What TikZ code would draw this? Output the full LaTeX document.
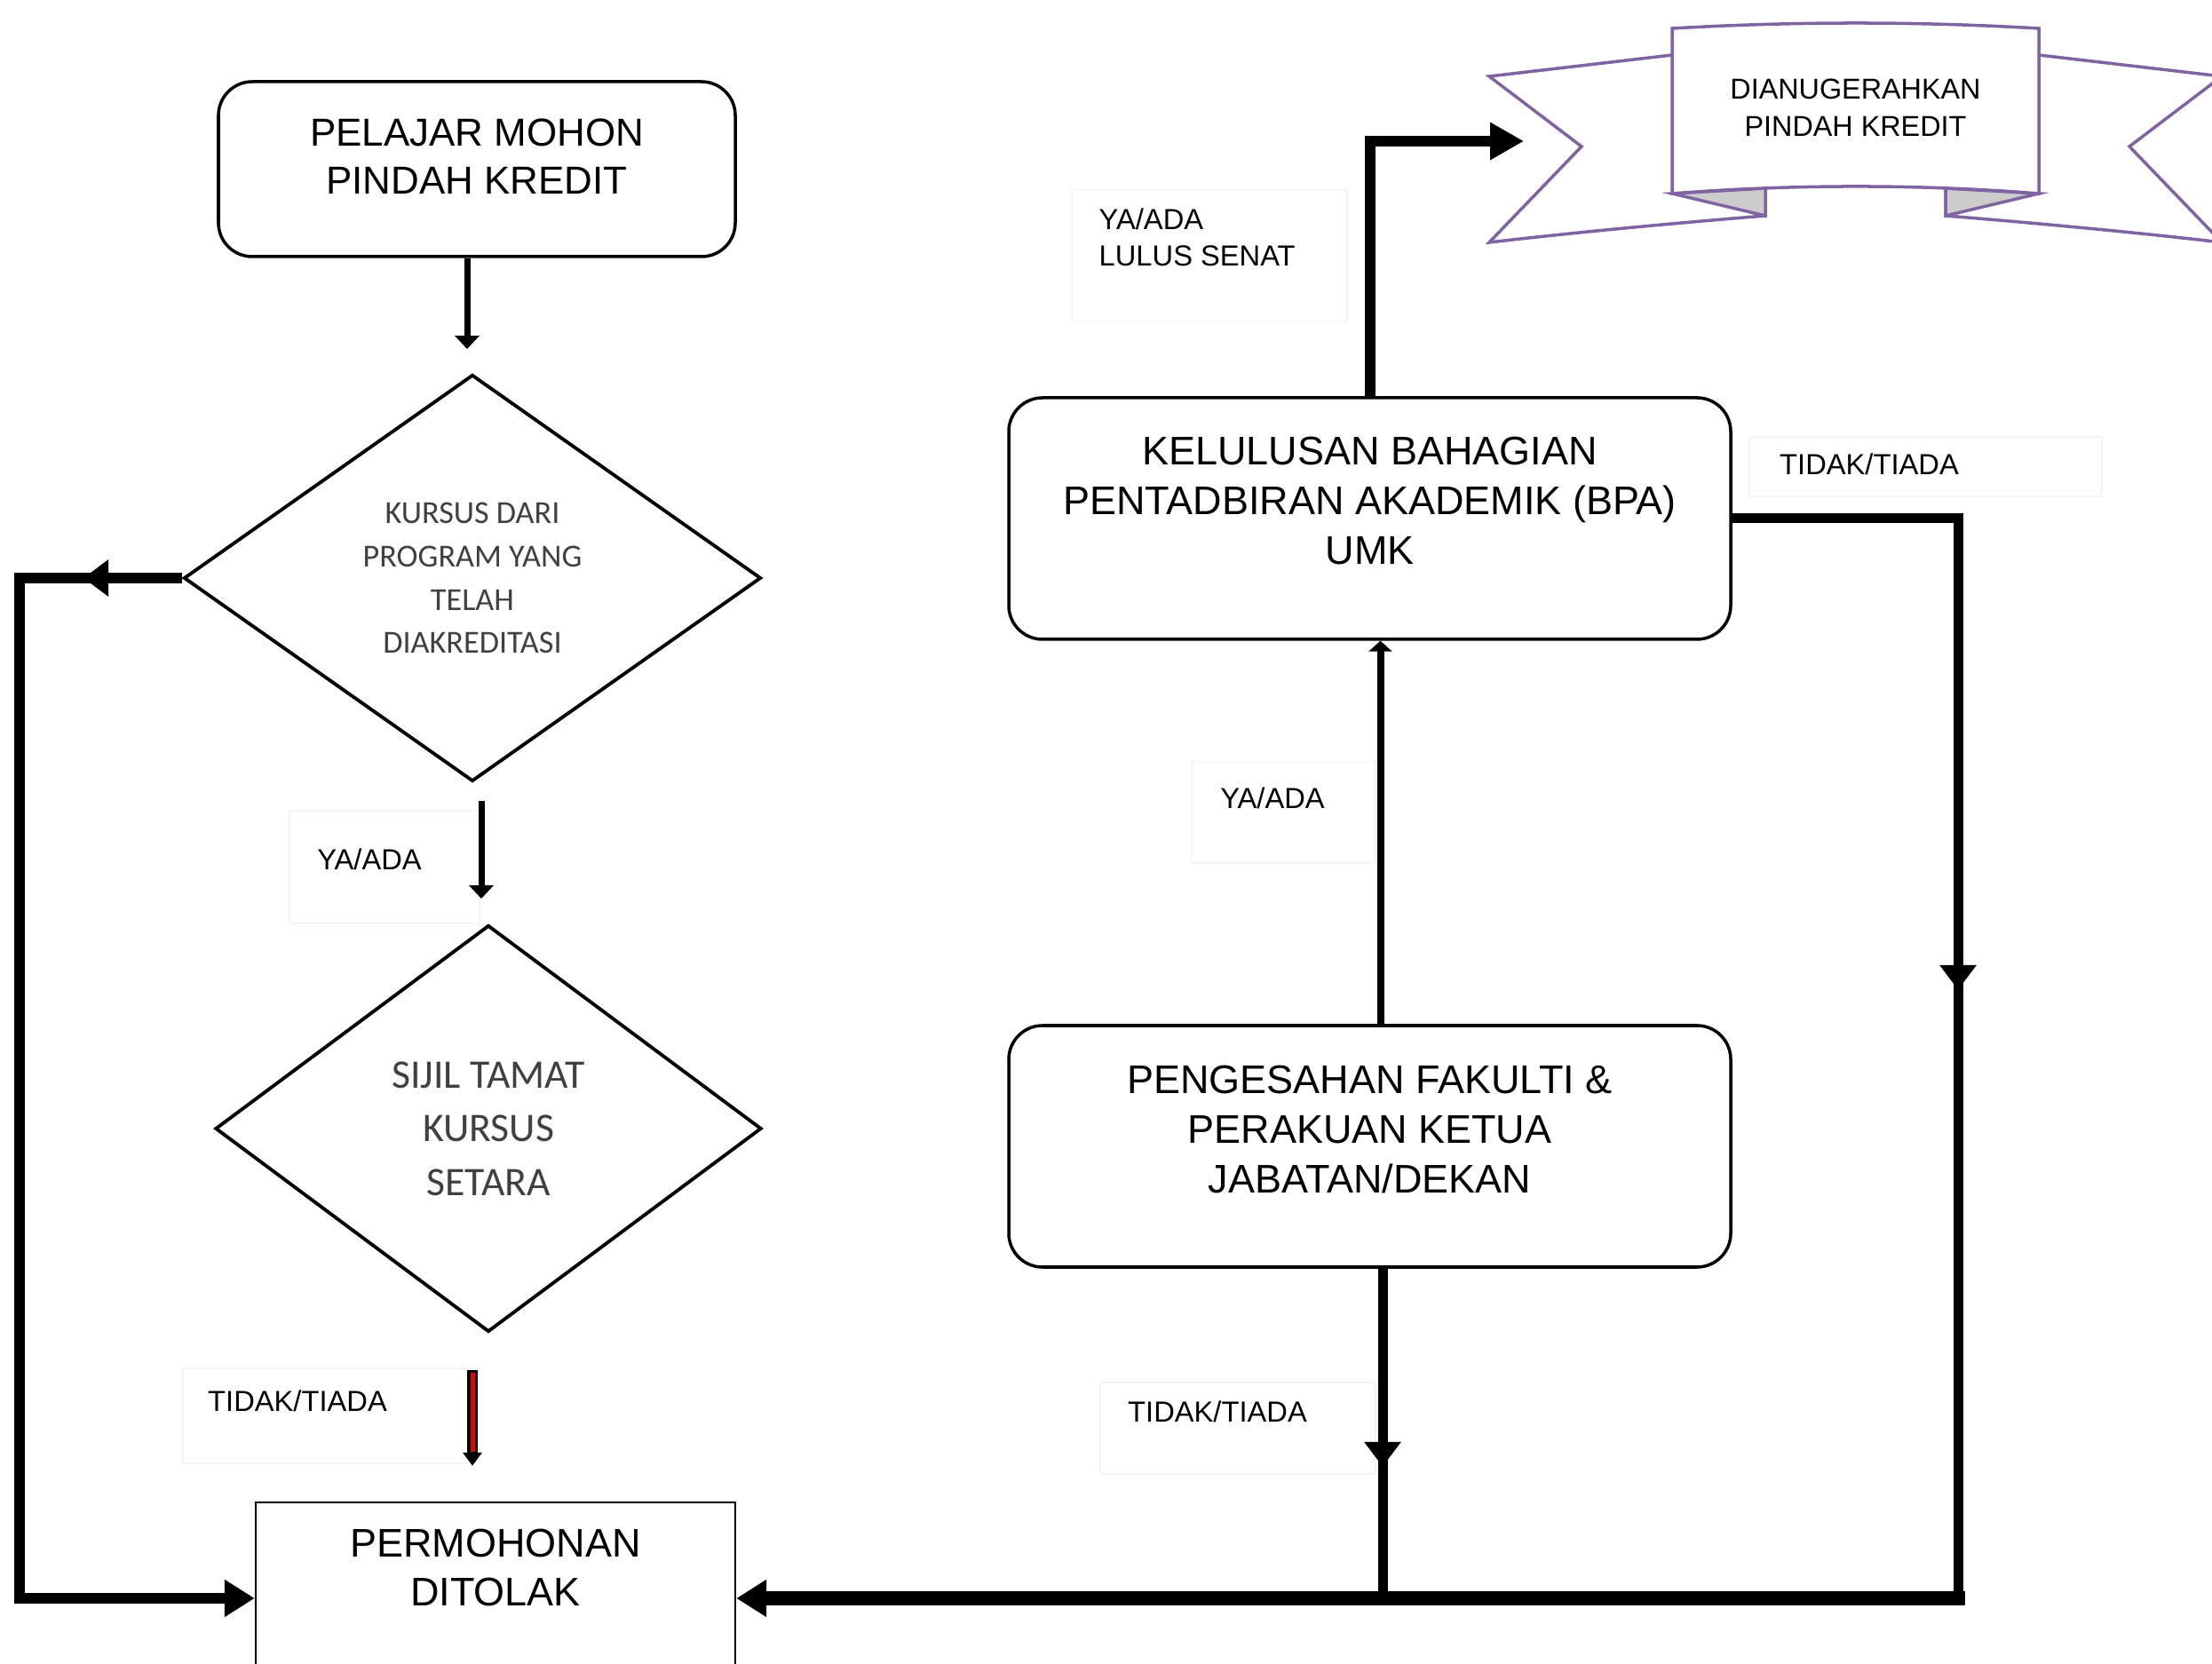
\documentclass[tikz,border=0pt]{standalone}
\usepackage{fontspec}
\setmainfont{Liberation Sans}
\newfontfamily\calibrifont{Carlito}
\usetikzlibrary{shapes.geometric,arrows.meta,decorations.markings}

\definecolor{ribbonpurple}{RGB}{128,100,162}
\definecolor{foldgray}{RGB}{204,204,204}
\definecolor{arrowred}{RGB}{200,16,16}

\tikzset{
  roundbox/.style={draw, line width=1pt, rounded corners=0.38cm, inner sep=0pt},
  boxtext/.style={align=center, font=\fontsize{12.8}{15.8}\selectfont},
  decision/.style={draw, diamond, aspect=1.4, line width=1.1pt, inner sep=0pt, align=center, text=black!75},
  lbl/.style={inner sep=0pt, align=left, font=\fontsize{9.3}{11.6}\selectfont},
  faint/.style={draw=black!4, line width=0.5pt},
  thinarrow/.style={line width=0.07cm, -{Triangle[width=0.27cm,length=0.15cm]}},
  fat/.style={line width=0.12cm},
  bighead/.style={-{Triangle[width=0.40cm,length=0.34cm]}},
  midhead/.style={postaction={decorate}, decoration={markings,
    mark=at position #1 with {\arrow{Triangle[width=0.40cm,length=0.28cm]}}}}
}

\begin{document}
\begin{tikzpicture}
\useasboundingbox (0,0) rectangle (24.91,18.73);

% ribbon
\begin{scope}[ribbonpurple, line width=1pt]
\filldraw[fill=white] (18.83,18.11) -- (16.77,17.87) -- (17.81,17.08) -- (16.77,16.00)
  .. controls (17.8,16.12) and (18.9,16.22) .. (19.88,16.30) -- (19.88,16.61);
\filldraw[fill=white] (22.96,18.11) -- (25.02,17.87) -- (23.98,17.08) -- (25.02,16.00)
  .. controls (23.99,16.12) and (22.89,16.22) .. (21.91,16.30) -- (21.91,16.61);
\filldraw[fill=foldgray] (18.83,16.55) -- (19.88,16.61) -- (19.88,16.30) -- cycle;
\filldraw[fill=foldgray] (22.96,16.55) -- (21.91,16.61) -- (21.91,16.30) -- cycle;
\filldraw[fill=white] (18.83,16.55) -- (18.83,18.41) .. controls (20.2,18.49) and (21.6,18.49) .. (22.96,18.41)
  -- (22.96,16.55) .. controls (21.6,16.657) and (20.2,16.657) .. cycle;
\end{scope}
\node[font=\fontsize{9.2}{11.8}\selectfont, align=center] (anugerah) at (20.895,17.52) {DIANUGERAHKAN\\PINDAH KREDIT};

\node[roundbox, minimum width=5.82cm, minimum height=1.97cm,
  label={[boxtext, font=\fontsize{12.5}{15.3}\selectfont, yshift=0.14cm]center:PELAJAR MOHON\\PINDAH KREDIT}]
  (pelajar) at (5.37,16.825) {};
\node[decision, minimum width=6.5cm, minimum height=4.58cm,
  font=\calibrifont\fontsize{10.3}{13.9}\selectfont]
  (kursus) at (5.32,12.22) {KURSUS DARI\\PROGRAM YANG\\TELAH\\DIAKREDITASI};
\node[decision, minimum width=6.15cm, minimum height=4.58cm,
  font=\calibrifont\fontsize{13}{17.2}\selectfont]
  (sijil) at (5.50,6.02) {SIJIL TAMAT\\KURSUS\\SETARA};
\node[draw, line width=0.7pt, minimum width=5.40cm, minimum height=2.16cm, inner sep=0pt,
  label={[boxtext, yshift=0.345cm]center:PERMOHONAN\\DITOLAK}]
  (ditolak) at (5.58,0.73) {};
\node[roundbox, minimum width=8.13cm, minimum height=2.72cm,
  label={[boxtext, yshift=0.20cm]center:KELULUSAN BAHAGIAN\\PENTADBIRAN AKADEMIK (BPA)\\UMK}]
  (bpa) at (15.425,12.89) {};
\node[roundbox, minimum width=8.13cm, minimum height=2.72cm,
  label={[boxtext, yshift=0.19cm]center:PENGESAHAN FAKULTI \&\\PERAKUAN KETUA\\JABATAN/DEKAN}]
  (fakulti) at (15.425,5.82) {};

\coordinate (loopx) at (0.22,0);
\coordinate (rc) at (22.05,0.73);
\coordinate (jn) at (15.57,0.73);
\coordinate (ribbontip) at (17.16,17.14);

% labels
\draw[faint] (3.26,8.33) rectangle (5.40,9.60);
\draw[faint] (2.06,2.25) rectangle (5.32,3.32);
\draw[faint] (12.07,15.11) rectangle (15.17,16.59);
\draw[faint] (19.70,13.14) rectangle (23.67,13.81);
\draw[faint] (13.42,9.01) rectangle (15.49,10.15);
\draw[faint] (12.39,2.13) rectangle (15.49,3.16);
\node[lbl] (ya1) at (4.16,9.055) {YA/ADA};
\node[lbl] (tidak1) at (3.35,2.95) {TIDAK/TIADA};
\node[lbl, anchor=west] (lulus) at (12.37,16.06) {YA/ADA\\LULUS SENAT};
\node[lbl] (tidak2) at (21.05,13.50) {TIDAK/TIADA};
\node[lbl] (ya2) at (14.33,9.74) {YA/ADA};
\node[lbl] (tidak3) at (13.71,2.83) {TIDAK/TIADA};

% connectors
\draw[thinarrow, shorten >=0.27cm] ([xshift=-0.11cm]pelajar.south) -- ([xshift=-0.11cm]pelajar.south |- kursus.north);
\draw[thinarrow, shorten <=0.2cm, shorten >=0.28cm] ([xshift=0.1cm]kursus.south) -- ([xshift=0.1cm]kursus.south |- sijil.north);
\draw[line width=0.12cm, -{Triangle[width=0.21cm,length=0.15cm]}, shorten <=0.41cm, shorten >=0.40cm]
  ([xshift=-0.18cm]sijil.south) -- ([xshift=-0.18cm]sijil.south |- ditolak.north);
\draw[arrowred, line width=0.05cm, shorten <=0.44cm, shorten >=0.56cm]
  ([xshift=-0.18cm]sijil.south) -- ([xshift=-0.18cm]sijil.south |- ditolak.north);
\draw[fat, bighead, midhead=1.11cm] (kursus.west) -- (kursus.west -| loopx) |- (ditolak.west);
\draw[fat, line width=0.11cm, midhead=7.85cm] (bpa.east) -| (rc);
\draw[fat, line width=0.16cm, line cap=rect, bighead] (rc) -- (ditolak.east);
\draw[fat, line width=0.11cm, midhead=2.23cm] (fakulti.south -| jn) -- (jn);
\draw[line width=0.08cm, -{Triangle[width=0.26cm,length=0.12cm]}] ([xshift=0.12cm]fakulti.north) -- ([xshift=0.12cm]bpa.south);
\draw[fat, -{Triangle[width=0.40cm,length=0.38cm]}] (bpa.north) |- (ribbontip);

\end{tikzpicture}
\end{document}
